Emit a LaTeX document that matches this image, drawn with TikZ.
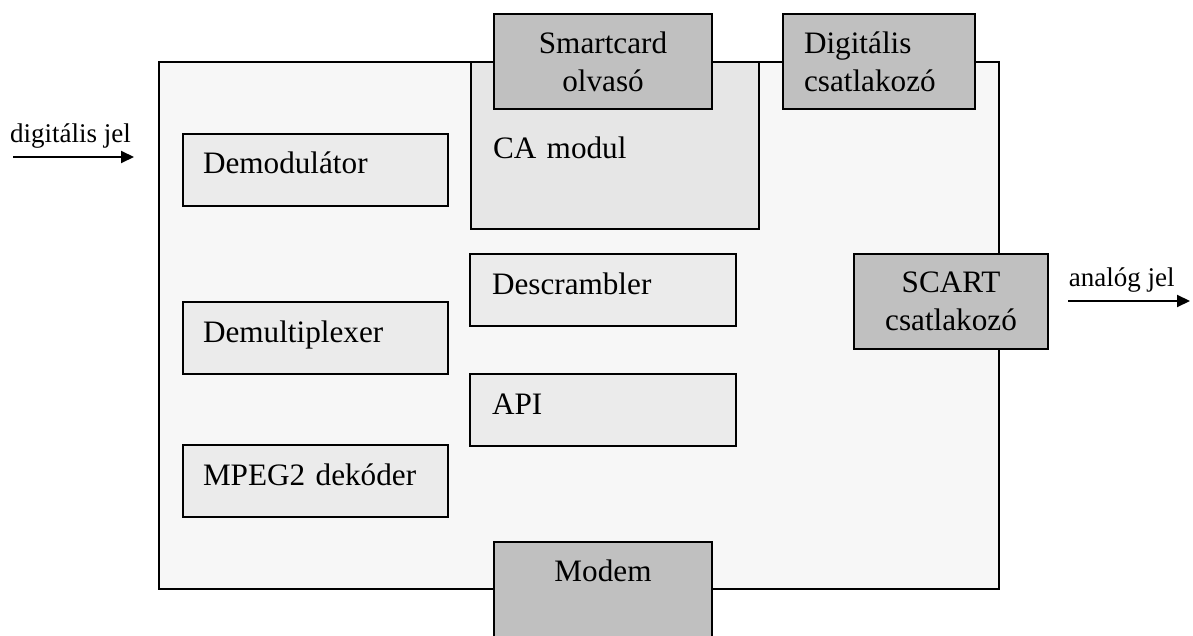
\documentclass[tikz,border=0pt]{standalone}
\usepackage{fontspec}
\setmainfont{Liberation Serif}
\usetikzlibrary{arrows.meta}
\definecolor{boardgray}{HTML}{F7F7F7}
\definecolor{unitgray}{HTML}{EBEBEB}
\definecolor{cagray}{HTML}{E6E6E6}
\definecolor{portgray}{HTML}{C0C0C0}
\tikzstyle{board}=[draw,line width=1pt,fill=boardgray,anchor=north west,inner sep=0pt,minimum width=420pt,minimum height=263.5pt]
\tikzstyle{unit}=[draw,line width=1pt,fill=unitgray,anchor=north west,inner xsep=10pt,inner ysep=0pt,text width=112.5pt,align=left,text height=20pt,text depth=16pt]
\tikzstyle{port}=[draw,line width=1pt,fill=portgray,anchor=north west,inner sep=0pt,minimum height=47.5pt,align=center]
\tikzstyle{signal}=[line width=1pt,-{Triangle[length=6.5pt,width=6pt]}]
\tikzstyle{signaltext}=[font=\fontsize{13.5}{16}\selectfont,inner sep=4pt]

\begin{document}
\begin{tikzpicture}[x=0.5pt,y=-0.5pt,font=\fontsize{15.6}{19}\selectfont]
\useasboundingbox (0, 0) rectangle (1193, 636);
\node[board] at (158, 61) (stb) {};
\node[unit,fill=cagray,inner xsep=11pt,text width=122pt,text height=48.5pt,text depth=35pt] at (470, 61) (ca) {CA modul};
\node[port,text width=109pt] at (493, 13) (smart) {Smartcard\\olvasó};
\node[port,align=left,inner xsep=10.5pt,text width=75pt] at (782, 13) (digi) {Digitális\\csatlakozó};
\node[port,text width=97pt] at (853, 253) (scart) {SCART\\csatlakozó};
\node[port,text width=109pt,text height=19.5pt,text depth=30pt] at (493, 541) (modem) {Modem};
\node[unit] at (182, 133) (demod) {Demodulátor};
\node[unit] at (182, 301) (demux) {Demultiplexer};
\node[unit] at (182, 444) (mpeg) {MPEG2 dekóder};
\node[unit,inner xsep=11pt,text width=111pt] at (469, 253) (descr) {Descrambler};
\node[unit,inner xsep=11pt,text width=111pt] at (469, 373) (api) {API};
\coordinate (din) at (13, 157);
\coordinate (dend) at (134, 157);
\coordinate (aout) at (1068, 301);
\coordinate (aend) at (1190, 301);
\draw[signal] (din) -- node[signaltext,anchor = south,pos=0.475] {digitális jel} (dend);
\draw[signal] (aout) -- node[signaltext,anchor = south,pos=0.44] {analóg jel} (aend);
\end{tikzpicture}
\end{document}
